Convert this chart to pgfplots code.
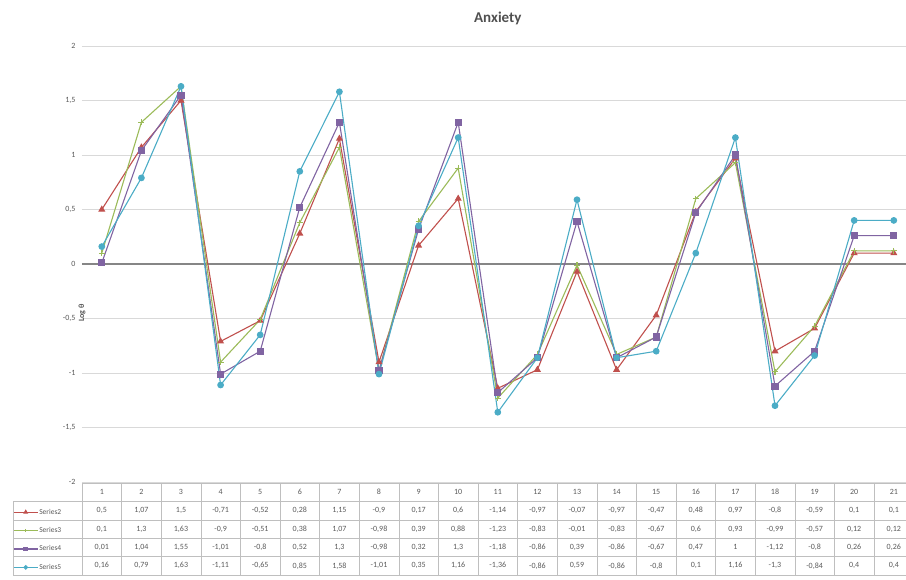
\documentclass[border=0pt]{standalone}
\usepackage{pgfplots}
\usepackage{pgfplotstable}
\pgfplotsset{compat=1.18}
\usepackage{fontspec}
\setmainfont{Carlito}

\definecolor{sred}{HTML}{C0504D}
\definecolor{sgreen}{HTML}{9BBB59}
\definecolor{spurple}{HTML}{8064A2}
\definecolor{scyan}{HTML}{4BACC6}
\definecolor{gridgray}{HTML}{D9D9D9}
\definecolor{tblgray}{HTML}{BFBFBF}
\definecolor{txtgray}{HTML}{595959}
\definecolor{zerogray}{HTML}{868686}

% decimal comma for the table cells: 0.5 -> 0,5
\def\cm#1{\cmA#1..\relax}
\def\cmA#1.#2.#3\relax{#1\ifx\relax#2\relax\else,#2\fi}

% values from the data table under the chart
\pgfplotstableread{
x  s2    s3    s4    s5
1  0.5   0.1   0.01  0.16
2  1.07  1.3   1.04  0.79
3  1.5   1.63  1.55  1.63
4  -0.71 -0.9  -1.01 -1.11
5  -0.52 -0.51 -0.8  -0.65
6  0.28  0.38  0.52  0.85
7  1.15  1.07  1.3   1.58
8  -0.9  -0.98 -0.98 -1.01
9  0.17  0.39  0.32  0.35
10 0.6   0.88  1.3   1.16
11 -1.14 -1.23 -1.18 -1.36
12 -0.97 -0.83 -0.86 -0.86
13 -0.07 -0.01 0.39  0.59
14 -0.97 -0.83 -0.86 -0.86
15 -0.47 -0.67 -0.67 -0.8
16 0.48  0.6   0.47  0.1
17 0.97  0.93  1     1.16
18 -0.8  -0.99 -1.12 -1.3
19 -0.59 -0.57 -0.8  -0.84
20 0.1   0.12  0.26  0.4
21 0.1   0.12  0.26  0.4
}\anx

\begin{document}
\begin{tikzpicture}
\useasboundingbox (0pt,0pt) rectangle (906pt,-579pt);
\begin{axis}[
  at={(82pt,-46pt)}, anchor=north west,
  scale only axis, width=831.6pt, height=436pt,
  xmin=0.5, xmax=21.5, ymin=-2, ymax=2,
  xtick=\empty,
  ytick={-2,-1.5,...,2},
  ymajorgrids, grid style={gridgray, line width=0.7pt},
  extra y ticks={0}, extra y tick labels={},
  extra y tick style={grid style={zerogray, line width=2.2pt}},
  axis line style={draw=none}, major tick length=0pt,
  yticklabel style={font=\fontsize{8}{9}\selectfont, text=txtgray, xshift=-3pt},
  /pgf/number format/.cd, use comma, assume math mode=true, /pgfplots/.cd,
  title={Anxiety},
  title style={font=\bfseries\fontsize{15}{17}\selectfont, text=txtgray!90!black,
    at={(axis description cs:0.5,1)}, anchor=center, yshift=22pt},
  ylabel={Log θ},
  ylabel style={font=\bfseries\fontsize{8}{9}\selectfont, text=txtgray,
    at={(axis description cs:0,0.5)}, anchor=center, xshift=-49pt},
  legend image code/.code={\draw[mark repeat=2, mark phase=2, #1, every mark/.append style={scale=0.6}]
    plot coordinates {(0pt,1pt) (12pt,1pt) (24pt,1pt)};},
  legend style={at={(axis description cs:-0.0830,-0.0500)}, anchor=north west,
    draw=none, fill=none, font=\fontsize{7.5}{8}\selectfont, text=txtgray,
    row sep=0pt, inner sep=0pt,
    nodes={inner sep=1pt, text height=9.0pt, text depth=7.4pt}},
  legend cell align=left,
  every axis plot/.append style={line width=1.1pt},
]
\addplot[sred, mark=triangle*, mark size=3pt] table[x=x, y=s2] {\anx};
\addlegendentry{Series2}
\addplot[sgreen, mark=+, mark size=3pt] table[x=x, y=s3] {\anx};
\addlegendentry{Series3}
\addplot[spurple, mark=square*, mark size=3pt] table[x=x, y=s4] {\anx};
\addlegendentry{Series4}
\addplot[scyan, mark=*, mark size=2.8pt] table[x=x, y=s5] {\anx};
\addlegendentry{Series5}
\end{axis}

% data table below the plot area
\begin{scope}[tblgray, line width=0.5pt]
  \draw (82pt,-483pt) -- (920pt,-483pt);
  \foreach \yy in {-501.4,-519.8,-538.2,-556.6,-575} \draw (13pt,\yy pt) -- (920pt,\yy pt);
  \draw (13pt,-501.4pt) -- (13pt,-575pt);
  \foreach \i in {0,...,21} \draw ({(82+39.6*\i)*1pt},-483pt) -- ({(82+39.6*\i)*1pt},-575pt);
\end{scope}
\begin{scope}[every node/.style={font=\fontsize{8}{9}\selectfont, text=txtgray, anchor=center}]
  \foreach \i in {1,...,21} \node at ({(82+39.6*(\i-0.5))*1pt},-492.2pt) {\i};
  \foreach \c [count=\k] in {s2,s3,s4,s5} {
    \foreach \r in {0,...,20} {
      \pgfplotstablegetelem{\r}{\c}\of\anx
      \node at ({(82+39.6*(\r+0.5))*1pt},{(-492.2-18.4*\k)*1pt})
        {\expandafter\cm\expandafter{\pgfplotsretval}};
    }
  }
\end{scope}
\end{tikzpicture}
\end{document}
